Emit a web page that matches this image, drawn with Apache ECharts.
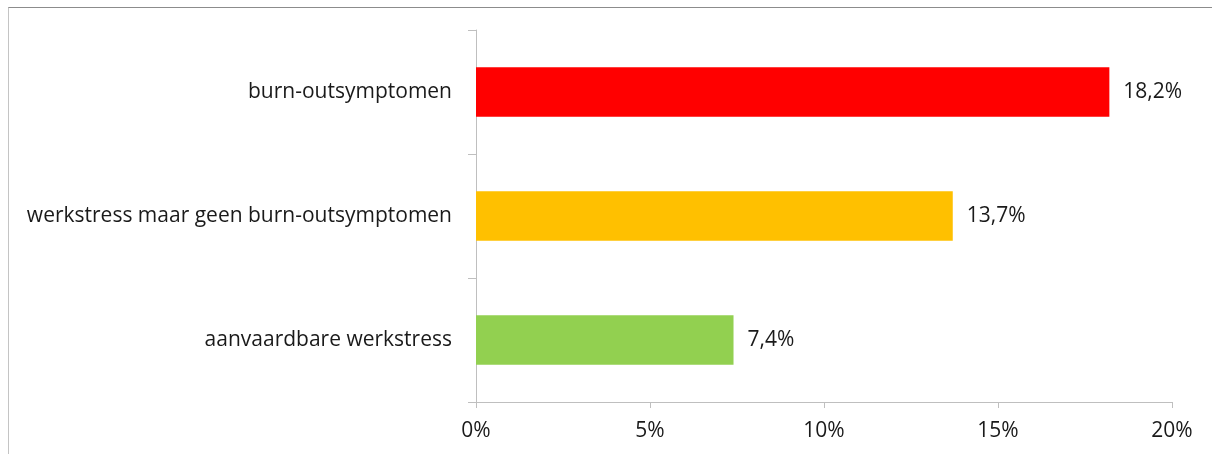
<!DOCTYPE html>
<html>
<head>
<meta charset="utf-8">
<script src="https://cdn.jsdelivr.net/npm/echarts@6/dist/echarts.min.js"></script>
<style>
  html, body { margin: 0; padding: 0; background: #fff; }
  #frame {
    position: absolute; left: 8px; top: 7px; width: 1220px; height: 460px;
    border-top: 1px solid #8c8c8c; border-left: 1px solid #c4c4c4;
  }
  #chart { position: absolute; left: 0; top: 0; width: 1212px; height: 454px; }
</style>
</head>
<body>
<div id="frame"></div>
<div id="chart"></div>
<script>
// Share of respondents per work-stress group (percent)
const categories = ['aanvaardbare werkstress', 'werkstress maar geen burn-outsymptomen', 'burn-outsymptomen'];
const values = [7.4, 13.7, 18.2];
const barColors = ['#92D050', '#FFC000', '#FF0000'];
const tickValues = [0, 5, 10, 15, 20];

const fmt = v => String(v).replace('.', ',') + '%';
const font = '"Open Sans", "Noto Sans", sans-serif';

const chart = echarts.init(document.getElementById('chart'));
chart.setOption({
  animation: false,
  grid: { left: 476, right: 40, top: 30, bottom: 52, containLabel: false },
  xAxis: {
    type: 'value',
    min: tickValues[0],
    max: tickValues[tickValues.length - 1],
    interval: tickValues[1] - tickValues[0],
    axisLine: { show: true, lineStyle: { color: '#bfbfbf', width: 1 } },
    axisTick: { show: true, length: 6, lineStyle: { color: '#bfbfbf' } },
    splitLine: { show: false },
    axisLabel: { formatter: v => v + '%', color: '#1a1a1a', fontFamily: font, fontSize: 21, margin: 19 }
  },
  yAxis: {
    type: 'category',
    data: categories,
    axisLine: { show: true, lineStyle: { color: '#bfbfbf', width: 1 } },
    axisTick: { show: true, length: 8, alignWithLabel: false, lineStyle: { color: '#bfbfbf' } },
    axisLabel: { color: '#1a1a1a', fontFamily: font, fontSize: 21, margin: 24 }
  },
  series: [{
    type: 'bar',
    data: values.map((v, i) => ({ value: v, itemStyle: { color: barColors[i] } })),
    barWidth: '40%',
    label: {
      show: true, position: 'right', distance: 14,
      formatter: p => fmt(p.value),
      color: '#1a1a1a', fontFamily: font, fontSize: 21
    }
  }]
});
</script>
</body>
</html>
